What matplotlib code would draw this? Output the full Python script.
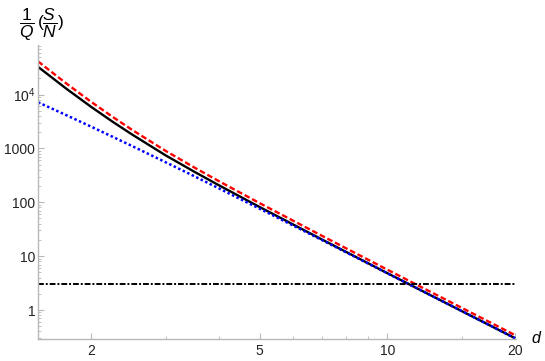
import matplotlib
matplotlib.use("Agg")
import matplotlib.pyplot as plt
from matplotlib.ticker import FixedLocator, NullFormatter, LogLocator

plt.rcParams['font.family'] = ['Liberation Sans', 'DejaVu Sans']
plt.rcParams['mathtext.fontset'] = 'custom'
plt.rcParams['mathtext.rm'] = 'Liberation Sans'
plt.rcParams['mathtext.it'] = 'Liberation Sans:italic'

# values
d = [1.5, 1.75, 2, 2.25, 2.5, 3, 3.5, 4, 5, 7, 10, 14, 20]
black = [32700, 12800, 5930, 3120, 1810, 742, 371, 208, 81.4, 20.5, 4.83, 1.25, 0.30]
red = [41200, 16000, 7350, 3840, 2210, 898, 445, 248, 96.1, 24.0, 5.60, 1.44, 0.342]
blue = [7190, 4130, 2540, 1640, 1106, 553, 306, 182, 75.8, 20.0, 4.80, 1.25, 0.30]
threshold = 3

xticks = [2, 5, 10, 20]
xminor = [3, 4, 6, 7, 8, 9, 15]
yticks = [1, 10, 100, 1000, 10000]
ylabels = ['1', '10', '100', '1000', r'$10^4$']

fig = plt.figure(figsize=(5.45, 3.61), dpi=100)
ax = fig.add_axes([38/545, 1-339/361, (516-38)/545, (339-45)/361])

ax.plot(d, black, color='black', lw=1.7, solid_capstyle='butt')
ax.plot(d, red, color='red', lw=1.7, linestyle=(0, (2.4, 1.2)))
ax.plot(d, blue, color='blue', lw=1.8, linestyle=(0, (1, 1)))
ax.plot([d[0], d[-1]], [threshold, threshold], color='black', lw=1.4,
        linestyle=(0, (3, 1, 1, 1)))

ax.set_xscale('log')
ax.set_yscale('log')
ax.set_xlim(1.5, 20.1)
ax.set_ylim(0.29, 8.3e4)

ax.xaxis.set_major_locator(FixedLocator(xticks))
ax.xaxis.set_minor_locator(FixedLocator(xminor))
ax.set_xticklabels([str(t) for t in xticks])
ax.xaxis.set_minor_formatter(NullFormatter())
ax.yaxis.set_major_locator(FixedLocator(yticks))
ax.set_yticklabels(ylabels)
ax.yaxis.set_minor_locator(LogLocator(base=10, subs=range(2, 10), numticks=20))
ax.yaxis.set_minor_formatter(NullFormatter())

gray = '#b8b8b8'
for s in ['top', 'right']:
    ax.spines[s].set_visible(False)
for s in ['left', 'bottom']:
    ax.spines[s].set_color(gray)
    ax.spines[s].set_linewidth(1.0)
ax.tick_params(which='both', direction='in', color=gray, labelcolor='#222222',
               labelsize=10)
ax.tick_params(which='major', length=4)
ax.tick_params(which='minor', length=2)
ax.tick_params(axis='y', pad=2)

fig.text(19/545, 1-25/361, r'$\dfrac{1}{Q}\,(\dfrac{S}{N})$', fontsize=12.5,
         va='center', ha='left')
fig.text(537/545, 1-338/361, r'$d$', fontsize=11.5, va='center', ha='center')

fig.savefig('out.png', dpi=100)
